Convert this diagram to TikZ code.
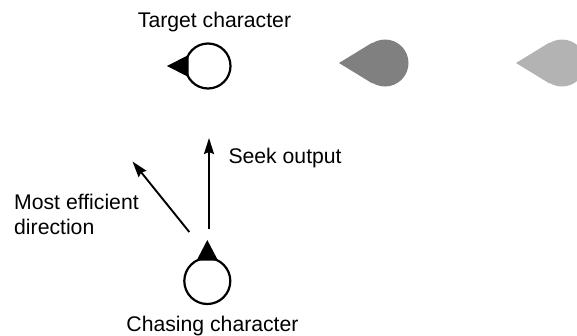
\documentclass[tikz,border=0pt]{standalone}
\usepackage{fontspec}
\setmainfont{Liberation Sans}
\usetikzlibrary{arrows.meta}
\definecolor{ghostA}{RGB}{128,128,128}
\definecolor{ghostB}{RGB}{179,179,179}
\begin{document}
\begin{tikzpicture}[x=1pt,y=-1pt,
  charc/.style={circle,draw=black,line width=2.2pt,fill=white,minimum size=45pt,inner sep=0pt},
  ghost/.style={circle,minimum size=47pt,inner sep=0pt},
  lbl/.style={inner sep=0pt,font=\fontsize{21.2}{25}\selectfont},
  vec/.style={line width=1.9pt,-{Stealth[length=16pt,width=10pt,inset=2pt]}}]
\useasboundingbox (0,0) rectangle (577,335);
% target character
\node[charc] (target) at (208,66) {};
\fill[black] ([shift={(-41,0)}]target.center) -- ([shift={(-19.5,-11)}]target.center) -- ([shift={(-19.5,11)}]target.center) -- cycle;
% ghosts
\node[ghost,fill=ghostA] (g1) at (385,63) {};
\fill[ghostA] ([shift={(-46,0)}]g1.center) -- ([shift={(-12.5,-20.5)}]g1.center) -- ([shift={(-12.5,20.5)}]g1.center) -- cycle;
\node[ghost,fill=ghostB] (g2) at (562,63) {};
\fill[ghostB] ([shift={(-46,0)}]g2.center) -- ([shift={(-12.5,-20.5)}]g2.center) -- ([shift={(-12.5,20.5)}]g2.center) -- cycle;
% chasing character
\node[charc,minimum size=46pt] (chaser) at (207.3,281) {};
\fill[black] ([shift={(0,-41)}]chaser.center) -- ([shift={(-10.7,-20.5)}]chaser.center) -- ([shift={(10.7,-20.5)}]chaser.center) -- cycle;
% arrows
\coordinate (seektail) at (209,228.5);
\coordinate (seektip) at (209,138);
\coordinate (efftail) at (189.3,232);
\coordinate (efftip) at (132.5,161.5);
\draw[vec] (seektail) -- (seektip);
\draw[vec] (efftail) -- (efftip);
% labels
\node[lbl,anchor=base] (tlabel) at (214.5,27.3) {Target character};
\node[lbl,anchor=base] (clabel) at (212.5,331) {Chasing character};
\node[lbl,anchor=base west] (slabel) at (228.3,163.3) {Seek output};
\node[lbl,anchor=north west,align=left] (elabel) at (14,194) {Most efficient\\direction};
\end{tikzpicture}
\end{document}
